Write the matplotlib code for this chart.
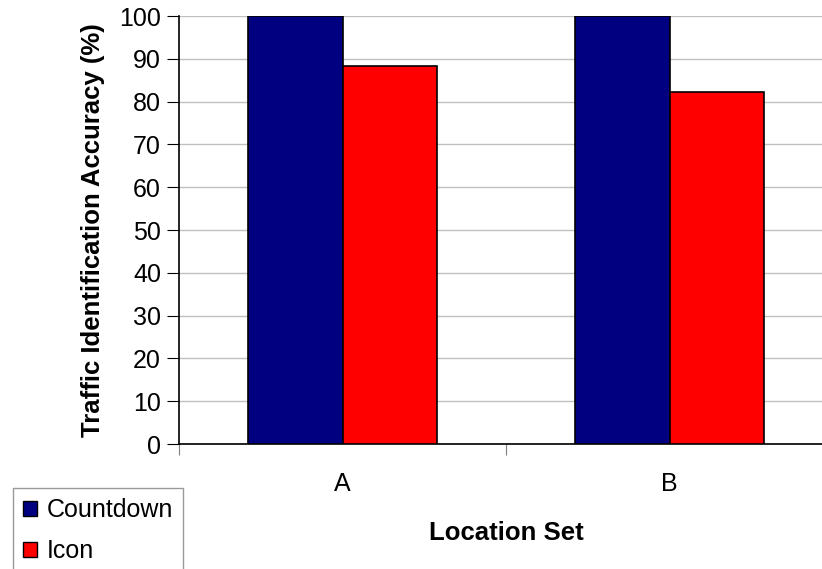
import matplotlib.pyplot as plt
from matplotlib.patches import Patch
import numpy as np

plt.rcParams['font.family'] = ['Liberation Sans', 'DejaVu Sans']

categories = ['A', 'B']
series_names = ['Countdown', 'Icon']
countdown = [100, 100]
icon = [88.3, 82.2]
colors = ['#000080', '#ff0000']

fig = plt.figure(figsize=(8.22, 5.69), dpi=100)
# plot area runs past the right edge of the picture, like the original
ax = fig.add_axes([179 / 822, 125 / 569, 654 / 822, 428 / 569])

x = np.arange(len(categories)) + 0.5
w = 0.2875
ax.bar(x - w / 2, countdown, w, color=colors[0], edgecolor='black', linewidth=1.2, zorder=3)
ax.bar(x + w / 2, icon, w, color=colors[1], edgecolor='black', linewidth=1.2, zorder=3)

ax.set_xlim(0, len(categories))
ax.set_ylim(0, 100)
ax.set_yticks(np.arange(0, 101, 10))
ax.yaxis.grid(True, color='#c0c0c0', linewidth=1)
ax.set_axisbelow(True)

ax.set_xticks(np.arange(len(categories) + 1))
ax.set_xticklabels([])
ax.set_xticks(x, minor=True)
ax.set_xticklabels(categories, minor=True)
ax.tick_params(axis='x', which='major', direction='out', length=8, color='#808080')
ax.tick_params(axis='x', which='minor', length=0, pad=20, labelsize=18)
ax.tick_params(axis='y', direction='out', length=9, labelsize=18, pad=4)

for s in ['top', 'right']:
    ax.spines[s].set_visible(False)
ax.spines['left'].set_linewidth(1.2)
ax.spines['bottom'].set_linewidth(1.2)

ax.set_ylabel('Traffic Identification Accuracy (%)', fontsize=18.5, fontweight='bold', labelpad=10)
fig.text(506 / 822, 1 - 533 / 569, 'Location Set', fontsize=18.5, fontweight='bold',
         ha='center', va='center')

handles = [Patch(facecolor=c, edgecolor='black', label=n) for c, n in zip(colors, series_names)]
fig.legend(handles=handles, loc='upper left', bbox_to_anchor=(13 / 822, 1 - 488 / 569),
           frameon=True, fancybox=False, edgecolor='#808080', fontsize=18,
           handlelength=0.55, handleheight=0.55, handletextpad=0.4,
           labelspacing=0.7, borderpad=0.4, borderaxespad=0)

fig.savefig('out.png', dpi=100)
